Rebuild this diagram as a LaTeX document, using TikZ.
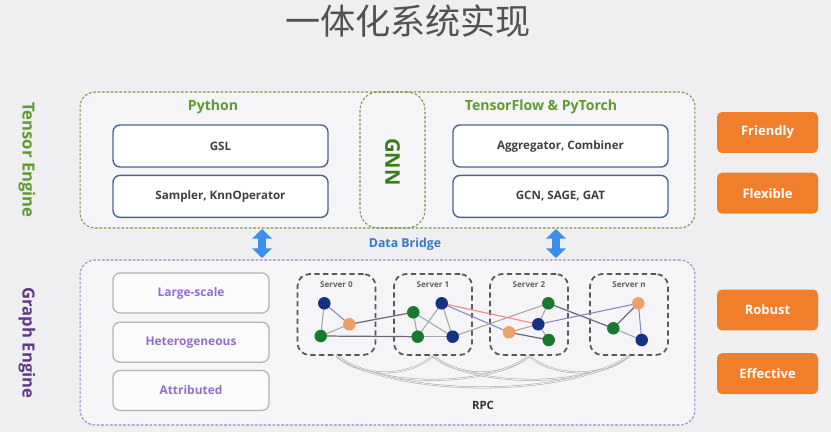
\documentclass[tikz,border=0pt]{standalone}
\usepackage{fontspec}
\setmainfont{Open Sans}
\newfontfamily\cjk{Noto Sans CJK SC}
\usepackage{tikz}
\usetikzlibrary{positioning}
\usetikzlibrary{arrows.meta, calc}
\definecolor{nen}{RGB}{239,239,241}
\definecolor{nentrong}{RGB}{245,245,247}
\definecolor{xanhla}{RGB}{120,150,70}
\definecolor{chuxanhla}{RGB}{95,155,45}
\definecolor{chugnn}{RGB}{55,125,25}
\definecolor{vienxanh}{RGB}{75,100,145}
\definecolor{cam}{RGB}{240,126,42}
\definecolor{tim}{RGB}{160,130,205}
\definecolor{chutim}{RGB}{100,55,140}
\definecolor{chutimnhat}{RGB}{150,110,200}
\definecolor{xanhcau}{RGB}{60,142,235}
\definecolor{nutxanh}{RGB}{20,50,130}
\definecolor{nutla}{RGB}{25,120,45}
\definecolor{nutcam}{RGB}{240,160,100}
\definecolor{xamtim}{RGB}{112,104,124}

\begin{document}
\begin{tikzpicture}[x=0.02cm, y=-0.02cm,
    nhom/.style={draw, rounded corners=0.3cm, dash pattern=on 1.5pt off 1pt, line width=0.6pt, fill=nentrong},
    hop/.style={draw=vienxanh, rounded corners=0.14cm, fill=white, line width=0.8pt, minimum width=4.3cm, minimum height=0.84cm, font=\bfseries\fontsize{6.6}{8}\selectfont, text=black!75},
    hoptim/.style={draw=black!30, rounded corners=0.14cm, fill=white!60!nentrong, line width=0.7pt, minimum width=3.12cm, minimum height=0.8cm, font=\bfseries\fontsize{6.8}{8}\selectfont, text=chutimnhat},
    hopcam/.style={fill=cam, rounded corners=0.1cm, minimum width=2.02cm, minimum height=0.82cm, font=\bfseries\fontsize{7.4}{9}\selectfont, text=white},
    server/.style={draw=black!65, rounded corners=0.24cm, dash pattern=on 3pt off 2pt, line width=1pt, minimum height=1.62cm, minimum width=1.56cm},
    tenserver/.style={font=\bfseries\fontsize{4.6}{5}\selectfont, text=black!62, anchor=north},
    nut/.style={circle, inner sep=0pt, minimum size=0.25cm},
    canh/.style={draw=black!35, line width=0.6pt},
    canhdam/.style={draw=xamtim, line width=0.7pt},
    canhdo/.style={draw=red!50, line width=0.6pt},
    canhxanh/.style={draw=blue!35!gray!70, line width=0.6pt},
    rpc/.style={draw=black!32, double=nen, double distance=0.5pt, line width=0.3pt},
    mui/.style={draw=xanhcau, line width=4pt, {Triangle[width=11pt,length=5.5pt]}-{Triangle[width=11pt,length=5.5pt]}}]

    % nen va khung hinh
    \fill[nen] (0,0) rectangle (831,432);
    \useasboundingbox (0,0) rectangle (831,432);

    % tieu de
    \node[font=\cjk\fontsize{20}{24}\selectfont, text=black!68] (tieude) at (408,21) {一体化系统实现};

    % Tensor Engine
    \node[nhom, draw=xanhla, minimum width=12.3cm, minimum height=2.72cm] (tensor) at (387.5,160) {};
    \node[rotate=-90, font=\bfseries\fontsize{9.5}{11}\selectfont, text=chuxanhla] (tentensor) at (27,160) {Tensor Engine};
    \node[draw=xanhla, rounded corners=0.36cm, dash pattern=on 1.5pt off 1pt, line width=0.6pt, minimum width=1.3cm, minimum height=2.72cm] (gnnhop) at (392.5,160) {};
    \node[rotate=-90, font=\bfseries\fontsize{11.5}{13}\selectfont, text=chugnn] (gnn) at (392.5,162) {GNN};

    % Python
    \node[font=\bfseries\fontsize{8}{9}\selectfont, text=chuxanhla] (python) at (213,107) {Python};
    \node[hop] (gsl) at (220.5,146) {GSL};
    \node[hop, below=0.14cm of gsl] (sampler) {Sampler, KnnOperator};

    % TensorFlow & PyTorch
    \node[font=\bfseries\fontsize{8}{9}\selectfont, text=chuxanhla] (tfpt) at (541,107) {TensorFlow \& PyTorch};
    \node[hop] (aggr) at (560.5,146) {Aggregator, Combiner};
    \node[hop, below=0.14cm of aggr] (gcn) {GCN, SAGE, GAT};

    % hop cam
    \node[hopcam] (friendly) at (767.5,132.5) {Friendly};
    \node[hopcam, below=0.38cm of friendly] (flexible) {Flexible};
    \node[hopcam] (robust) at (767.5,310) {Robust};
    \node[hopcam, below=0.44cm of robust] (effective) {Effective};

    % Graph Engine
    \node[nhom, draw=tim, minimum width=12.3cm, minimum height=3.3cm] (graph) at (387.5,342.5) {};
    \node[rotate=-90, font=\bfseries\fontsize{9.5}{11}\selectfont, text=chutim] (tengraph) at (27,343) {Graph Engine};
    \node[hoptim] (large) at (191,293) {Large-scale};
    \node[hoptim, below=0.16cm of large] (hetero) {Heterogeneous};
    \node[hoptim, below=0.14cm of hetero] (attr) {Attributed};

    % Data Bridge
    \node[font=\bfseries\fontsize{7}{8}\selectfont, text=xanhcau!85!black] (bridge) at (405,244) {Data Bridge};
    \coordinate (cauA1) at (262,229);
    \coordinate (cauA2) at (262,258);
    \coordinate (cauB1) at (556,229);
    \coordinate (cauB2) at (556,258);
    \draw[mui] (cauA1) -- (cauA2);
    \draw[mui] (cauB1) -- (cauB2);

    % cac server
    \node[server] (s0) at (336.5,314.5) {};
    \node[server] (s1) at (433,314.5) {};
    \node[server] (s2) at (529,314.5) {};
    \node[server] (sn) at (629,314.5) {};
    \node[tenserver, below=0.04cm of s0.north] (ts0) {Server 0};
    \node[tenserver, below=0.04cm of s1.north] (ts1) {Server 1};
    \node[tenserver, below=0.04cm of s2.north] (ts2) {Server 2};
    \node[tenserver, below=0.04cm of sn.north] (tsn) {Server n};

    % RPC
    \draw[rpc] (s0.south) .. controls +(25,22) and +(-25,22) .. (s1.south);
    \draw[rpc] (s1.south) .. controls +(25,22) and +(-25,22) .. (s2.south);
    \draw[rpc] (s2.south) .. controls +(25,22) and +(-25,22) .. (sn.south);
    \draw[rpc] (s0.south) .. controls +(40,32) and +(-40,32) .. (s2.south);
    \draw[rpc] (s1.south) .. controls +(40,32) and +(-40,32) .. (sn.south);
    \draw[rpc] (s0.south) .. controls +(60,42) and +(-60,42) .. (sn.south);
    \node[font=\bfseries\fontsize{6.5}{8}\selectfont, text=black!80] (rpc) at (483,405) {RPC};

    % cac nut do thi
    \coordinate (a0) at (324.3,303.3);
    \coordinate (o0) at (349.3,324.3);
    \coordinate (g0) at (320.7,336);
    \coordinate (g1a) at (413.3,312.3);
    \coordinate (b1a) at (441.7,303.3);
    \coordinate (g1b) at (417.7,336.7);
    \coordinate (b1b) at (452.7,336.7);
    \coordinate (g2a) at (548.3,303.3);
    \coordinate (b2) at (538.3,324.3);
    \coordinate (o2) at (509,332.3);
    \coordinate (g2b) at (548.7,340);
    \coordinate (on) at (638.3,303.3);
    \coordinate (gn) at (613.3,328.3);
    \coordinate (bn) at (641.7,340);

    % canh
    \draw[canhxanh] (a0) -- (o0);
    \draw[canh] (a0) -- (g0);
    \draw[canh] (g0) -- (o0);
    \draw[canhdam] (o0) -- (g1a);
    \draw[canhdam] (g0) -- (g1b);
    \draw[canh] (g1b) -- (b1b);
    \draw[canh] (g1a) -- (g1b);
    \draw[canh] (g1a) -- (b1b);
    \draw[canh] (g1b) -- (b1a);
    \draw[canh] (b1a) -- (b1b);
    \draw[canhdo] (b1a) -- (b2);
    \draw[canhxanh] (b1a) -- (o2);
    \draw[canh] (b1b) -- (g2a);
    \draw[canh] (g2a) -- (b2);
    \draw[canh] (b2) -- (g2b);
    \draw[canh] (o2) -- (b2);
    \draw[canhdam] (o2) -- (g2b);
    \draw[canhxanh] (b2) -- (on);
    \draw[canhdam] (g2a) -- (gn);
    \draw[canhdam] (gn) -- (on);
    \draw[canhxanh] (on) -- (bn);
    \draw[canh] (gn) -- (bn);

    % to mau nut
    \node[nut, fill=nutxanh] (na0) at (a0) {};
    \node[nut, fill=nutcam] (no0) at (o0) {};
    \node[nut, fill=nutla] (ng0) at (g0) {};
    \node[nut, fill=nutla] (ng1a) at (g1a) {};
    \node[nut, fill=nutxanh] (nb1a) at (b1a) {};
    \node[nut, fill=nutla] (ng1b) at (g1b) {};
    \node[nut, fill=nutxanh] (nb1b) at (b1b) {};
    \node[nut, fill=nutla] (ng2a) at (g2a) {};
    \node[nut, fill=nutxanh] (nb2) at (b2) {};
    \node[nut, fill=nutcam] (no2) at (o2) {};
    \node[nut, fill=nutla] (ng2b) at (g2b) {};
    \node[nut, fill=nutcam] (non) at (on) {};
    \node[nut, fill=nutla] (ngn) at (gn) {};
    \node[nut, fill=nutxanh] (nbn) at (bn) {};
\end{tikzpicture}
\end{document}
